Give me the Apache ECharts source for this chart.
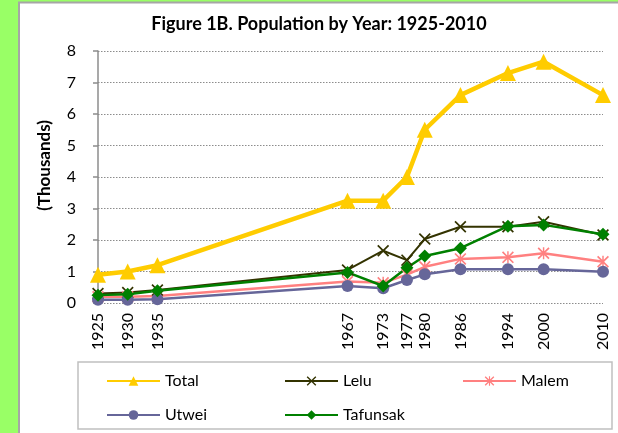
<!DOCTYPE html>
<html>
<head>
<meta charset="utf-8">
<script src="https://cdn.jsdelivr.net/npm/echarts@6/dist/echarts.min.js"></script>
<style>
  html, body { margin: 0; padding: 0; background: #99ff66; }
  #chart { width: 618px; height: 433px; }
</style>
</head>
<body>
<div id="chart"></div>
<script>
// Population by year, in thousands
const years = [1925, 1930, 1935, 1967, 1973, 1977, 1980, 1986, 1994, 2000, 2010];
const total    = [0.9, 1.0, 1.2, 3.25, 3.25, 4.0, 5.5, 6.6, 7.3, 7.66, 6.6];
const lelu     = [0.3, 0.33, 0.41, 1.05, 1.66, 1.36, 2.03, 2.42, 2.42, 2.58, 2.16];
const malem    = [0.2, 0.2, 0.22, 0.68, 0.64, 0.9, 1.15, 1.4, 1.45, 1.58, 1.31];
const utwei    = [0.1, 0.1, 0.12, 0.54, 0.47, 0.73, 0.91, 1.07, 1.07, 1.07, 0.99];
const tafunsak = [0.25, 0.28, 0.39, 0.97, 0.54, 1.12, 1.49, 1.74, 2.44, 2.48, 2.18];
const yTicks = [0, 1, 2, 3, 4, 5, 6, 7, 8];

const FONT = 'Lato';

// marker shapes (Excel style x and star)
const crossPath = 'path://M1,0 L5,4 L9,0 L10,1 L6,5 L10,9 L9,10 L5,6 L1,10 L0,9 L4,5 L0,1 Z';
const starPath = 'path://M1,0 L5,4 L9,0 L10,1 L6,5 L10,9 L9,10 L5,6 L1,10 L0,9 L4,5 L0,1 Z M4.4,0 L5.6,0 L5.6,10 L4.4,10 Z';

function pairs(values) {
    return years.map((y, i) => [y, values[i]]);
}

function lineSeries(name, values, color, width, symbol, size) {
    return {
        name: name,
        type: 'line',
        data: pairs(values),
        symbol: symbol,
        symbolSize: size,
        showAllSymbol: true,
        lineStyle: { color: color, width: width },
        itemStyle: { color: color },
        emphasis: { disabled: true },
        animation: false
    };
}

// one legend per item so the columns line up like the original
function legendAt(name, left, top) {
    return {
        data: [name],
        left: left,
        top: top,
        padding: 0,
        itemWidth: 53,
        itemHeight: 12,
        textStyle: { fontFamily: FONT, fontSize: 16, color: '#000' },
        selectedMode: false
    };
}

const chart = echarts.init(document.getElementById('chart'));

const option = {
    backgroundColor: '#99ff66',
    animation: false,
    title: {
        text: 'Figure 1B. Population by Year: 1925-2010',
        left: 314,
        top: 10,
        textAlign: 'center',
        textStyle: { fontFamily: FONT, fontSize: 18, fontWeight: 'bold', color: '#000' }
    },
    graphic: [
        {
            type: 'rect',
            z: -10,
            shape: { x: 19, y: 2.5, width: 620, height: 440 },
            style: { fill: '#fff', stroke: '#a6a6a6', lineWidth: 2 }
        },
        {
            type: 'rect',
            z: -5,
            shape: { x: 78, y: 362, width: 534, height: 67 },
            style: { fill: '#fff', stroke: '#c0c0c0', lineWidth: 1.5 }
        },
        {
            type: 'text',
            left: 36,
            top: 120,
            rotation: Math.PI / 2,
            style: {
                text: '(Thousands)',
                fontFamily: FONT,
                fontSize: 17,
                fontWeight: 'bold',
                fill: '#000'
            }
        }
    ],
    legend: [
        legendAt('Total', 106, 373),
        legendAt('Lelu', 284, 373),
        legendAt('Malem', 462, 373),
        legendAt('Utwei', 106, 407),
        legendAt('Tafunsak', 284, 407)
    ],
    grid: { left: 98, right: 15, top: 51, bottom: 130 },
    xAxis: {
        type: 'value',
        min: 1925,
        max: 2010,
        axisLine: { show: false },
        axisTick: { show: false },
        splitLine: { show: false },
        axisLabel: {
            customValues: years,
            formatter: v => String(v),
            rotate: 90,
            margin: 10,
            fontFamily: FONT,
            fontSize: 16,
            color: '#000'
        }
    },
    yAxis: {
        type: 'value',
        min: 0,
        max: 8,
        interval: 1,
        axisLine: { show: true, lineStyle: { color: '#8c8c8c', width: 1.5 } },
        axisTick: { show: true, length: 5, lineStyle: { color: '#8c8c8c', width: 1.5 } },
        axisLabel: {
            customValues: yTicks,
            margin: 22,
            fontFamily: FONT,
            fontSize: 16,
            color: '#000'
        },
        splitLine: { show: true, lineStyle: { color: '#8c8c8c', width: 1, type: [1.5, 1.5] } }
    },
    series: [
        lineSeries('Total', total, '#ffcc00', 4.5, 'triangle', 16),
        lineSeries('Lelu', lelu, '#333300', 2, crossPath, 12),
        lineSeries('Malem', malem, '#ff8080', 2.5, starPath, 12),
        lineSeries('Utwei', utwei, '#666699', 2.5, 'circle', 12),
        lineSeries('Tafunsak', tafunsak, '#008000', 2.5, 'diamond', 13)
    ]
};

chart.setOption(option);
</script>
</body>
</html>
